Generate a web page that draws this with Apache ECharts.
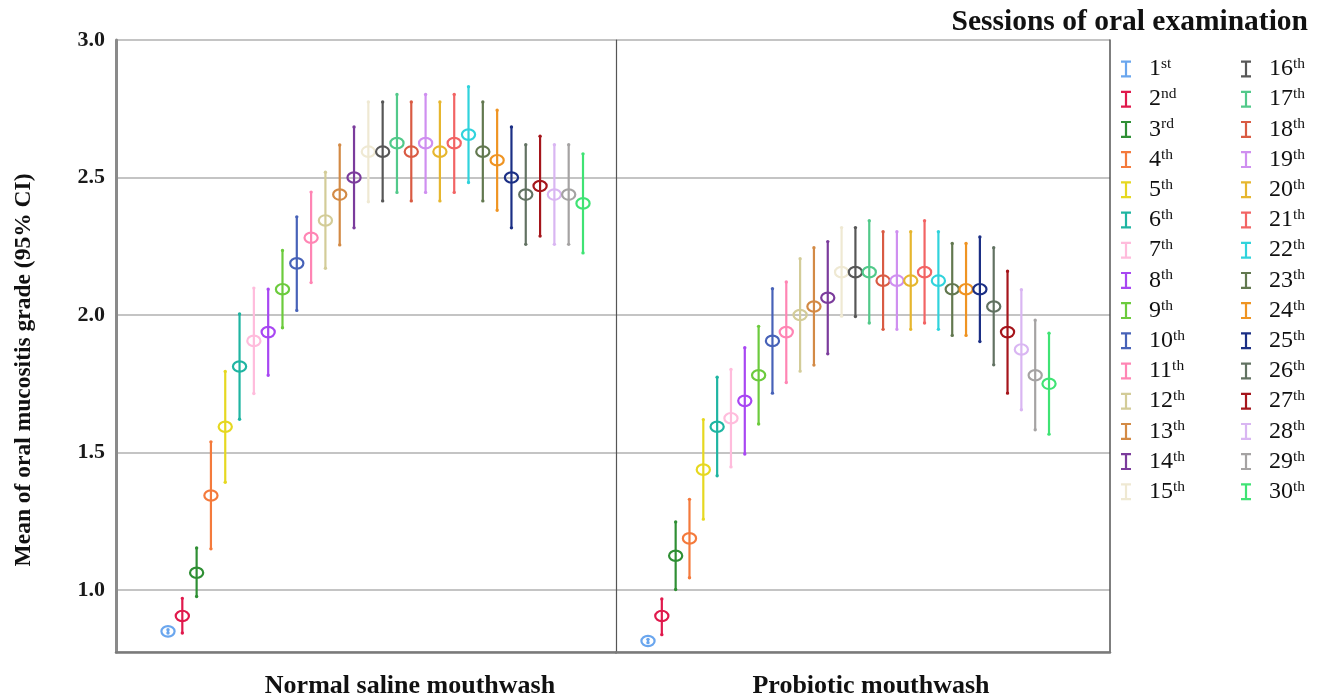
<!DOCTYPE html>
<html><head><meta charset="utf-8">
<script src="https://cdn.jsdelivr.net/npm/echarts@6/dist/echarts.min.js"></script>
<style>html,body{margin:0;padding:0;background:#fff}#c{width:1322px;height:699px}</style>
</head><body><div id="c"></div>
<script>
// ---- data ----
const sessionNums = ['1','2','3','4','5','6','7','8','9','10','11','12','13','14','15','16','17','18','19','20','21','22','23','24','25','26','27','28','29','30'];
const sessionSuffix = ['st','nd','rd','th','th','th','th','th','th','th','th','th','th','th','th','th','th','th','th','th','th','th','th','th','th','th','th','th','th','th'];
const sessionColors = ['#6aa6ee','#e0194c','#2f8f34','#f47a3c','#e6d820','#1fb5a2','#ffbcdc','#a847f2','#6ccb3d','#4762b8','#ff85b4','#d3cc98','#d38a45','#7b3c9c','#efe9d3','#575757','#52c98a','#d95b43','#cf8ff0','#e6b62e','#f26464','#30d3dc','#62784f','#ef9422','#1b2f85','#627262','#a5151b','#d9b6f2','#a5a3a3','#3fe374'];
const panelNames = ['Normal saline mouthwash','Probiotic mouthwash'];
const yTicks = [1.0, 1.5, 2.0, 2.5, 3.0];

const salineMean = [0.850,0.906,1.063,1.344,1.594,1.813,1.906,1.938,2.094,2.188,2.281,2.344,2.438,2.500,2.594,2.594,2.625,2.594,2.625,2.594,2.625,2.656,2.594,2.563,2.500,2.438,2.469,2.438,2.438,2.406];
const salineLow  = [0.844,0.844,0.977,1.150,1.392,1.621,1.715,1.781,1.954,2.017,2.118,2.170,2.255,2.317,2.412,2.415,2.446,2.415,2.446,2.415,2.446,2.482,2.415,2.381,2.317,2.257,2.287,2.257,2.257,2.226];
const salineHigh = [0.856,0.970,1.153,1.539,1.795,2.004,2.098,2.094,2.235,2.357,2.447,2.519,2.618,2.684,2.775,2.775,2.802,2.775,2.802,2.775,2.802,2.830,2.775,2.745,2.684,2.619,2.650,2.619,2.619,2.586];

const probioticMean = [0.815,0.906,1.125,1.188,1.438,1.594,1.625,1.688,1.781,1.906,1.938,2.000,2.031,2.063,2.156,2.156,2.156,2.125,2.125,2.125,2.156,2.125,2.094,2.094,2.094,2.031,1.938,1.875,1.781,1.750];
const probioticLow  = [0.809,0.838,1.002,1.045,1.258,1.416,1.448,1.495,1.604,1.716,1.755,1.796,1.818,1.859,1.996,1.995,1.971,1.948,1.948,1.948,1.971,1.948,1.926,1.926,1.904,1.819,1.716,1.656,1.583,1.567];
const probioticHigh = [0.821,0.968,1.248,1.330,1.620,1.774,1.802,1.881,1.959,2.096,2.120,2.205,2.245,2.267,2.318,2.318,2.343,2.303,2.303,2.303,2.343,2.303,2.260,2.260,2.284,2.245,2.159,2.092,1.981,1.934];

// ---- build ----
const SERIF = '"Liberation Serif", "Times New Roman", serif';
const names = sessionNums.map((n, i) => n + sessionSuffix[i]);
const panelData = [
  [salineMean, salineLow, salineHigh],
  [probioticMean, probioticLow, probioticHigh]
];

function renderItem(params, api) {
  const x = api.value(0);
  const c = api.coord([x, api.value(1)]);
  const lo = api.coord([x, api.value(2)]);
  const hi = api.coord([x, api.value(3)]);
  const color = api.visual('color');
  return {
    type: 'group',
    children: [
      {type: 'line', shape: {x1: c[0], y1: hi[1], x2: c[0], y2: lo[1]}, style: {stroke: color, lineWidth: 2.2}},
      {type: 'circle', shape: {cx: c[0], cy: hi[1], r: 1.7}, style: {fill: color}},
      {type: 'circle', shape: {cx: c[0], cy: lo[1], r: 1.7}, style: {fill: color}},
      {type: 'ellipse', shape: {cx: c[0], cy: c[1], rx: 6.6, ry: 5.2}, style: {fill: 'rgba(0,0,0,0)', stroke: color, lineWidth: 2.2}}
    ]
  };
}

const series = [];
for (let i = 0; i < 30; i++) {
  for (let p = 0; p < 2; p++) {
    const d = panelData[p];
    series.push({
      type: 'custom',
      name: names[i],
      xAxisIndex: p,
      yAxisIndex: p,
      itemStyle: {color: sessionColors[i]},
      renderItem: renderItem,
      clip: false,
      encode: {x: 0, y: [1, 2, 3]},
      data: [[i + 1, d[0][i], d[1][i], d[2][i]]]
    });
  }
}

const ICON = 'path://M0,0H10V2.2H6.1V14.8H10V17H0V14.8H3.9V2.2H0Z';
function legendFor(start, left) {
  return {
    orient: 'vertical',
    left: left,
    top: 56,
    padding: 0,
    itemWidth: 10,
    itemHeight: 17,
    itemGap: 5.2,
    selectedMode: false,
    data: names.slice(start, start + 15).map(n => ({name: n, icon: ICON})),
    formatter: function (name) {
      const m = name.match(/^(\d+)(\D+)$/);
      return '{n|' + m[1] + '}{s|' + m[2] + '}';
    },
    textStyle: {
      fontFamily: SERIF,
      color: '#111',
      padding: [0, 0, 0, 13],
      rich: {
        n: {fontFamily: SERIF, fontSize: 24, color: '#111', lineHeight: 26},
        s: {fontFamily: SERIF, fontSize: 15.5, color: '#111', lineHeight: 14, verticalAlign: 'top'}
      }
    }
  };
}

const yAxisCommon = {
  type: 'value',
  min: 0.775,
  max: 3.0,
  splitNumber: 5,
  axisTick: {show: false},
  splitLine: {show: true, lineStyle: {color: '#c4c4c4', width: 2}}
};

const option = {
  animation: false,
  backgroundColor: '#fff',
  grid: [
    {left: 116, right: 1322 - 616, top: 40, bottom: 699 - 652},
    {left: 616, right: 1322 - 1110, top: 40, bottom: 699 - 652}
  ],
  xAxis: [
    {type: 'value', gridIndex: 0, min: -2.634, max: 32.306, axisLabel: {show: false}, axisTick: {show: false}, splitLine: {show: false},
      axisLine: {show: true, onZero: false, lineStyle: {color: '#7a7a7a', width: 2.5}}},
    {type: 'value', gridIndex: 1, min: -1.314, max: 34.41, axisLabel: {show: false}, axisTick: {show: false}, splitLine: {show: false},
      axisLine: {show: true, onZero: false, lineStyle: {color: '#7a7a7a', width: 2.5}}}
  ],
  yAxis: [
    Object.assign({}, yAxisCommon, {
      gridIndex: 0,
      axisLine: {show: true, onZero: false, lineStyle: {color: '#8a8a8a', width: 3}},
      axisLabel: {
        show: true, margin: 11, color: '#1a1a1a', fontFamily: SERIF, fontWeight: 'bold', fontSize: 22,
        formatter: v => (yTicks.some(t => Math.abs(t - v) < 1e-6) ? v.toFixed(1) : '')
      }
    }),
    Object.assign({}, yAxisCommon, {
      gridIndex: 1,
      axisLine: {show: true, onZero: false, lineStyle: {color: '#555', width: 1.2}},
      axisLabel: {show: false}
    }),
    {type: 'value', gridIndex: 1, position: 'right', min: 0.775, max: 3.0, axisLabel: {show: false}, axisTick: {show: false}, splitLine: {show: false},
      axisLine: {show: true, onZero: false, lineStyle: {color: '#555', width: 1.5}}}
  ],
  legend: [legendFor(0, 1121), legendFor(15, 1241)],
  graphic: [
    {type: 'text', x: 1308, y: 22, style: {text: 'Sessions of oral examination', align: 'right', verticalAlign: 'middle', fontFamily: SERIF, fontWeight: 'bold', fontSize: 29.5, fill: '#111'}},
    {type: 'text', x: 410, y: 686, style: {text: panelNames[0], align: 'center', verticalAlign: 'middle', fontFamily: SERIF, fontWeight: 'bold', fontSize: 26, fill: '#111'}},
    {type: 'text', x: 871, y: 686, style: {text: panelNames[1], align: 'center', verticalAlign: 'middle', fontFamily: SERIF, fontWeight: 'bold', fontSize: 26, fill: '#111'}},
    {type: 'text', x: 24, y: 370, rotation: Math.PI / 2, style: {text: 'Mean of oral mucositis grade (95% CI)', align: 'center', verticalAlign: 'middle', fontFamily: SERIF, fontWeight: 'bold', fontSize: 23.5, fill: '#111'}}
  ],
  series: series
};

const chart = echarts.init(document.getElementById('c'), null, {renderer: 'canvas'});
chart.setOption(option);
</script>
</body></html>
